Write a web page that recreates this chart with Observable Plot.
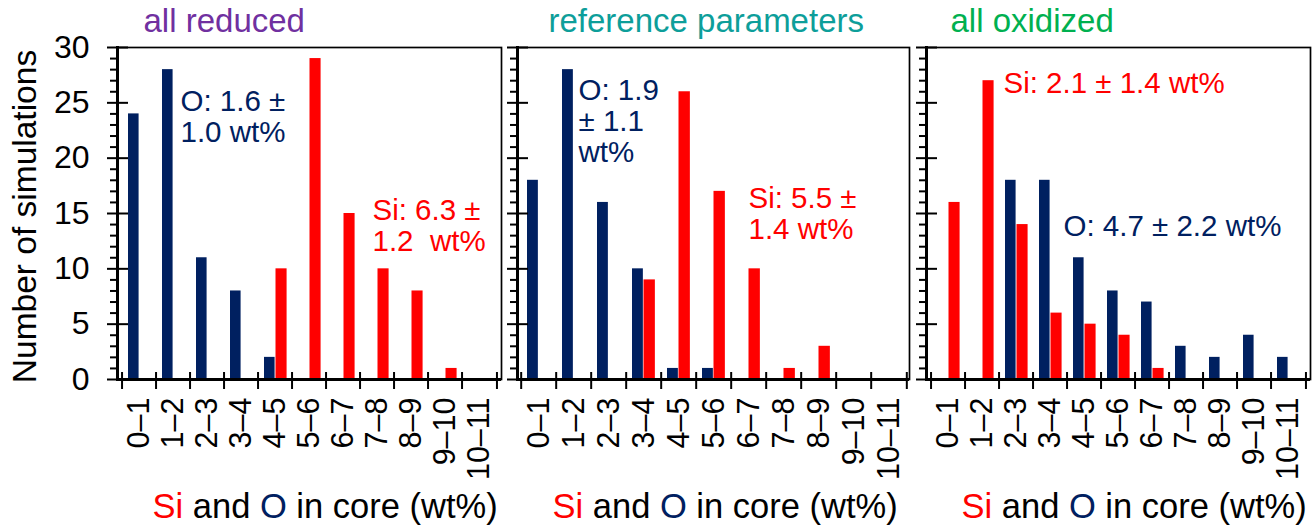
<!DOCTYPE html>
<html>
<head>
<meta charset="utf-8">
<script src="https://cdn.jsdelivr.net/npm/d3@7"></script>
<script src="https://cdn.jsdelivr.net/npm/@observablehq/plot@0.6"></script>
<style>
  html, body { margin: 0; padding: 0; background: white; }
  #chart { position: relative; width: 1316px; height: 529px; overflow: hidden; background: white; }
  #chart svg { position: absolute; top: 0; overflow: visible; }
</style>
</head>
<body>
<div id="chart"></div>
<script>
// ---- data ----
const categories = ["0–1","1–2","2–3","3–4","4–5","5–6","6–7","7–8","8–9","9–10","10–11"];
const reducedO    = [24, 28, 11, 8, 2, 0, 0, 0, 0, 0, 0];
const reducedSi   = [0, 0, 0, 0, 10, 29, 15, 10, 8, 1, 0];
const referenceO  = [18, 28, 16, 10, 1, 1, 0, 0, 0, 0, 0];
const referenceSi = [0, 0, 0, 9, 26, 17, 10, 1, 3, 0, 0];
const oxidizedO   = [0, 0, 18, 18, 11, 8, 7, 3, 2, 4, 2];
const oxidizedSi  = [16, 27, 14, 6, 5, 4, 1, 0, 0, 0, 0];
const yMajorTicks = [0, 5, 10, 15, 20, 25, 30];
const yMinorTicks = d3.range(0, 31).filter(d => d % 5 !== 0);
const panelTitles = ["all reduced", "reference parameters", "all oxidized"];
const yLabel = "Number of simulations";
const xLabel = "Si and O in core (wt%)";
const annotReduced   = {O: "O: 1.6 ±\n1.0 wt%", Si: "Si: 6.3 ±\n1.2  wt%"};
const annotReference = {O: "O: 1.9\n± 1.1\nwt%", Si: "Si: 5.5 ±\n1.4 wt%"};
const annotOxidized  = {O: "O: 4.7 ± 2.2 wt%", Si: "Si: 2.1 ± 1.4 wt%"};

// ---- styles ----
const NAVY = "#002060", RED = "#ff0000";
const titleColors = ["#7030a0", "#0d9e9a", "#00b050"];
const FONT = "'Liberation Sans', Arial, Helvetica, sans-serif";
const H = 529, MT = 47, MB = 150;

const panels = [
  {O: reducedO, Si: reducedSi, title: panelTitles[0], color: titleColors[0], annot: annotReduced,
   left: 0, width: 505, ml: 117, mr: 4, labels: true,
   oPos: [63, 109], siPos: [255, 218], titleDx: 26},
  {O: referenceO, Si: referenceSi, title: panelTitles[1], color: titleColors[1], annot: annotReference,
   left: 505, width: 405, ml: 12, mr: 1, labels: false,
   oPos: [61, 98], siPos: [231, 206], titleDx: 31},
  {O: oxidizedO, Si: oxidizedSi, title: panelTitles[2], color: titleColors[2], annot: annotOxidized,
   left: 910, width: 406, ml: 16, mr: 6, labels: false,
   oPos: [137, 234], siPos: [77, 91], titleDx: 24}
];

const container = document.getElementById("chart");
const annFs = 29.5, annLh = 1.06;

panels.forEach((p, pi) => {
  const bw = (p.width - p.ml - p.mr) / categories.length;
  const oData = categories.map((c, i) => ({cat: c, v: p.O[i]})).filter(d => d.v > 0);
  const siData = categories.map((c, i) => ({cat: c, v: p.Si[i]})).filter(d => d.v > 0);
  const none = () => "";
  const marks = [
    Plot.barY(oData, {x: "cat", y: "v", fill: NAVY, insetLeft: 6, insetRight: bw - 17.5}),
    Plot.barY(siData, {x: "cat", y: "v", fill: RED, insetLeft: 17.5, insetRight: bw - 29.5}),
    Plot.frame({stroke: "black", strokeWidth: 1.7}),
    Plot.frame({anchor: "left", stroke: "black", strokeWidth: 3}),
    Plot.ruleY([0], {stroke: "black", strokeWidth: 3}),
    // y ticks: major crossing, minor outside
    Plot.axisY(yMajorTicks, {anchor: "left", tickSize: 10, tickPadding: 18, strokeWidth: 2,
      fontSize: 32, tickFormat: p.labels ? (d => String(d)) : none, label: null}),
    Plot.axisY(yMajorTicks, {anchor: "left", tickSize: 11, dx: 11, strokeWidth: 2, tickFormat: none, label: null}),
    Plot.axisY(yMinorTicks, {anchor: "left", tickSize: 7, strokeWidth: 2, tickFormat: none, label: null}),
    // x boundary ticks crossing the axis
    Plot.axisX(categories, {anchor: "bottom", tickSize: 10, dx: -bw / 2, strokeWidth: 2, tickFormat: none, label: null}),
    Plot.axisX(categories.slice(-1), {anchor: "bottom", tickSize: 10, dx: bw / 2, strokeWidth: 2, tickFormat: none, label: null}),
    Plot.axisX(categories, {anchor: "bottom", tickSize: 7, dy: -7, dx: -bw / 2, strokeWidth: 2, tickFormat: none, label: null}),
    Plot.axisX(categories.slice(-1), {anchor: "bottom", tickSize: 7, dy: -7, dx: bw / 2, strokeWidth: 2, tickFormat: none, label: null}),
    // category labels
    Plot.axisX(categories, {anchor: "bottom", tickSize: 0, tickPadding: 18, tickRotate: -90, fontSize: 30.5,
      tickFormat: d => d, label: null}),
    // panel title
    Plot.text([p.title], {frameAnchor: "top-left", dx: p.titleDx, dy: 31 - MT, textAnchor: "start",
      lineAnchor: "bottom", fill: p.color, fontSize: 33}),
    // x title
    Plot.text([xLabel], {frameAnchor: "bottom-left", dx: 35, dy: 517 - (H - MB), textAnchor: "start",
      lineAnchor: "bottom", fill: "black", fontSize: 34.5}),
    // annotations
    Plot.text([p.annot.O], {frameAnchor: "top-left", dx: p.oPos[0], dy: p.oPos[1] - MT - 0.71 * annFs,
      textAnchor: "start", lineAnchor: "top", lineHeight: annLh, fill: NAVY, fontSize: annFs}),
    Plot.text([p.annot.Si], {frameAnchor: "top-left", dx: p.siPos[0], dy: p.siPos[1] - MT - 0.71 * annFs,
      textAnchor: "start", lineAnchor: "top", lineHeight: annLh, fill: RED, fontSize: annFs})
  ];
  if (p.labels) {
    marks.push(Plot.text([yLabel], {frameAnchor: "left", dx: 35 - p.ml, dy: 3, rotate: -90, textAnchor: "middle",
      lineAnchor: "bottom", fill: "black", fontSize: 33.5}));
  }
  const chart = Plot.plot({
    width: p.width,
    height: H,
    marginTop: MT,
    marginBottom: MB,
    marginLeft: p.ml,
    marginRight: p.mr,
    style: {fontFamily: FONT, color: "black", background: "transparent", overflow: "visible"},
    x: {type: "band", domain: categories, padding: 0},
    y: {domain: [0, 30]},
    marks
  });
  chart.style.left = p.left + "px";
  container.appendChild(chart);
});

// colour the "Si" and "O" words of the x titles
container.querySelectorAll("text").forEach(t => {
  if (t.textContent === xLabel) {
    while (t.firstChild) t.removeChild(t.firstChild);
    const parts = [["Si", RED], [" and ", "black"], ["O", NAVY], [" in core (wt%)", "black"]];
    parts.forEach(([s, c]) => {
      const ts = document.createElementNS("http://www.w3.org/2000/svg", "tspan");
      ts.textContent = s;
      ts.setAttribute("fill", c);
      t.appendChild(ts);
    });
  }
});
</script>
</body>
</html>
